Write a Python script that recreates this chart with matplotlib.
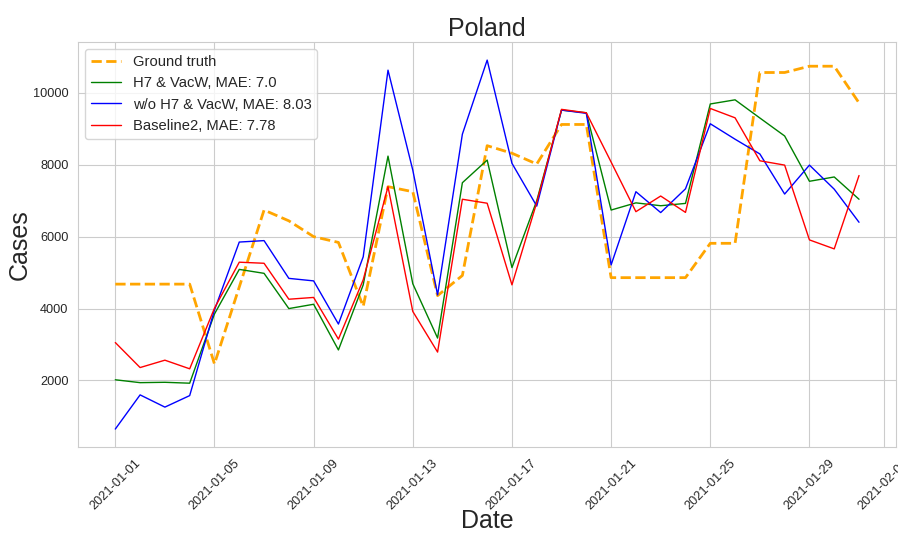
import numpy as np
import pandas as pd
import seaborn as sns
from matplotlib import pyplot as plt

dates = pd.date_range("2021-01-01", "2021-01-31", freq="D")

ground_truth = [4680, 4680, 4680, 4680, 2460, 4600, 6740, 6440, 6000, 5840,
                4060, 7390, 7250, 4360, 4920, 8530, 8320, 8020, 9120, 9120,
                4860, 4860, 4860, 4860, 5815, 5815, 10565, 10565, 10740, 10740,
                9720]
h7_vacw = [2020, 1940, 1950, 1925, 3850, 5090, 4980, 4000, 4120, 2850,
           4660, 8240, 4690, 3180, 7500, 8130, 5140, 7000, 9520, 9445,
           6740, 6940, 6860, 6925, 9690, 9805, 9300, 8800, 7540, 7660,
           7040]
wo_h7_vacw = [650, 1600, 1260, 1580, 3960, 5850, 5890, 4840, 4770, 3570,
              5440, 10630, 7850, 4380, 8850, 10910, 8040, 6850, 9520, 9430,
              5215, 7250, 6670, 7330, 9140, 8710, 8300, 7185, 7990, 7320,
              6400]
baseline2 = [3055, 2360, 2565, 2325, 4010, 5290, 5260, 4260, 4310, 3150,
             4800, 7390, 3920, 2790, 7040, 6930, 4660, 6950, 9540, 9445,
             8075, 6695, 7130, 6675, 9565, 9305, 8110, 7990, 5910, 5660,
             7700]

mae_h7 = 7.0
mae_wo = 8.03
mae_base = 7.78

sns.set_style("whitegrid")
plt.rcParams['font.family'] = ['Liberation Sans', 'DejaVu Sans']

fig = plt.figure(figsize=(8.98, 5.34), dpi=100)
ax = fig.add_axes([0.087, 0.162, 0.911, 0.760])

ax.plot(dates, ground_truth, color="orange", linestyle="--", linewidth=2, label="Ground truth")
ax.plot(dates, h7_vacw, color="green", linewidth=1, label=f"H7 & VacW, MAE: {mae_h7}")
ax.plot(dates, wo_h7_vacw, color="blue", linewidth=1, label=f"w/o H7 & VacW, MAE: {mae_wo}")
ax.plot(dates, baseline2, color="red", linewidth=1, label=f"Baseline2, MAE: {mae_base}")

ax.set_title("Poland", fontsize=18, pad=4)
ax.set_xlabel("Date", fontsize=18)
ax.set_ylabel("Cases", fontsize=18)
ax.yaxis.set_label_coords(-0.057, 0.5)
ax.xaxis.set_label_coords(0.5, -0.152)
ax.tick_params(axis="x", labelrotation=45, labelsize=9.2)
ax.tick_params(axis="y", labelsize=9.2)
ax.legend(loc="upper left", fontsize=10.6)

fig.savefig("out.png", dpi=100)
